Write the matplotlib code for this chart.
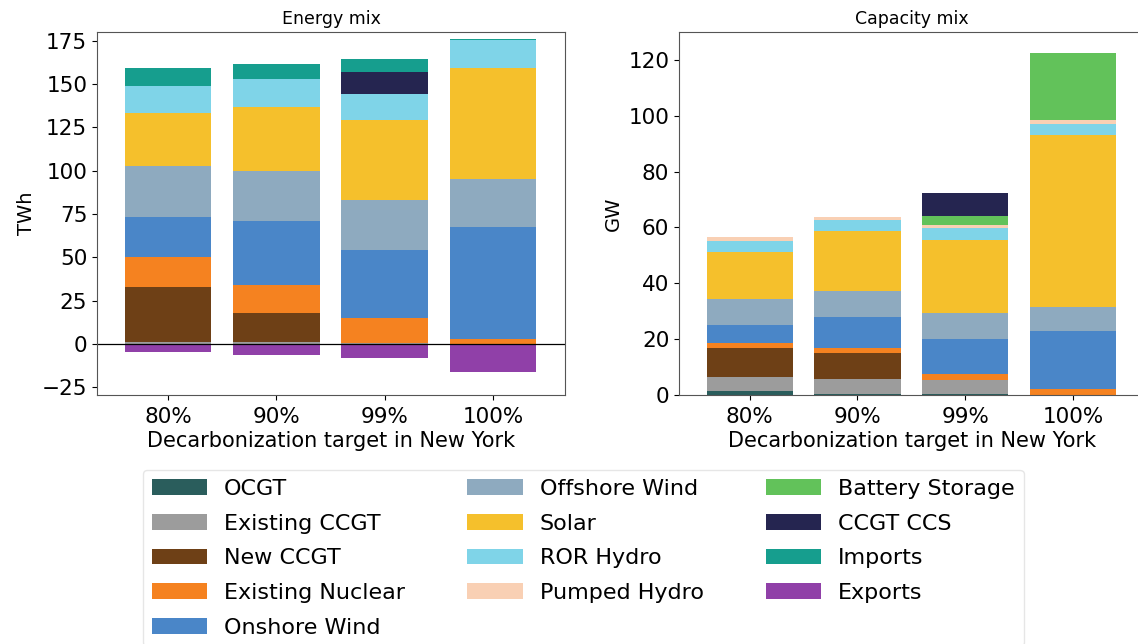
import matplotlib
matplotlib.use("Agg")
import matplotlib.pyplot as plt
from matplotlib.patches import Patch
import numpy as np

scenarios = ["80%", "90%", "99%", "100%"]
technologies = ["OCGT", "Existing CCGT", "New CCGT", "Existing Nuclear", "Onshore Wind",
                "Offshore Wind", "Solar", "ROR Hydro", "Pumped Hydro", "Battery Storage",
                "CCGT CCS", "Imports", "Exports"]
colors = ["#2a5d5c", "#9c9c9c", "#6e4016", "#f58220", "#4a86c8",
          "#8eaabf", "#f5c02c", "#7fd4e8", "#f9d0b4", "#62c25a",
          "#252550", "#169e8e", "#9040a8"]

# Energy mix (TWh), per technology, per scenario
energy_ocgt = [0.0, 0.0, 0.0, 0.0]
energy_existing_ccgt = [1.0, 1.0, 0.4, 0.0]
energy_new_ccgt = [32.0, 17.1, 0.0, 0.0]
energy_nuclear = [17.0, 16.0, 14.5, 2.7]
energy_onshore = [23.5, 36.6, 39.4, 64.8]
energy_offshore = [29.0, 28.9, 28.9, 27.7]
energy_solar = [30.8, 37.2, 45.9, 64.2]
energy_ror = [15.8, 15.8, 15.4, 15.9]
energy_pumped = [0.0, 0.0, 0.0, 0.0]
energy_battery = [0.0, 0.0, 0.0, 0.0]
energy_ccs = [0.0, 0.0, 12.5, 0.0]
energy_imports = [10.3, 9.2, 7.7, 0.8]
energy_exports = [-4.5, -6.4, -8.3, -16.0]

# Capacity mix (GW)
cap_ocgt = [1.5, 0.5, 0.5, 0.0]
cap_existing_ccgt = [4.8, 5.2, 5.0, 0.0]
cap_new_ccgt = [10.7, 9.3, 0.0, 0.0]
cap_nuclear = [1.8, 2.0, 2.0, 2.0]
cap_onshore = [6.1, 10.9, 12.7, 20.9]
cap_offshore = [9.5, 9.3, 9.0, 8.7]
cap_solar = [16.7, 21.7, 26.4, 61.4]
cap_ror = [3.9, 3.8, 4.2, 3.9]
cap_pumped = [1.5, 1.2, 1.1, 1.5]
cap_battery = [0.0, 0.0, 3.2, 24.1]
cap_ccs = [0.0, 0.0, 8.1, 0.0]

energy_stack = [energy_ocgt, energy_existing_ccgt, energy_new_ccgt, energy_nuclear,
                energy_onshore, energy_offshore, energy_solar, energy_ror, energy_pumped,
                energy_battery, energy_ccs, energy_imports]
cap_stack = [cap_ocgt, cap_existing_ccgt, cap_new_ccgt, cap_nuclear, cap_onshore,
             cap_offshore, cap_solar, cap_ror, cap_pumped, cap_battery, cap_ccs]

plt.rcParams['font.family'] = ['DejaVu Sans']

fig = plt.figure(figsize=(11.38, 6.44), dpi=100)
ax1 = fig.add_axes([97/1138, 1-395/644, 468/1138, 363/644])
ax2 = fig.add_axes([679/1138, 1-395/644, 466/1138, 363/644])

x = np.arange(len(scenarios))
width = 0.8

def stack(ax, series):
    bottom = np.zeros(len(scenarios))
    for vals, c in zip(series, colors):
        v = np.array(vals, dtype=float)
        ax.bar(x, v, width, bottom=bottom, color=c, linewidth=0)
        bottom += v

stack(ax1, energy_stack)
ax1.bar(x, energy_exports, width, color=colors[-1], linewidth=0)
ax1.axhline(0, color="black", linewidth=0.9)
stack(ax2, cap_stack)

for ax, title, ylabel in [(ax1, "Energy mix", "TWh"), (ax2, "Capacity mix", "GW")]:
    ax.set_xticks(x)
    ax.set_xticklabels(scenarios)
    ax.set_xlim(-0.655, 3.666)
    ax.set_title(title, fontsize=12.5, pad=6)
    ax.set_ylabel(ylabel, fontsize=14)
    ax.set_xlabel("Decarbonization target in New York", fontsize=15, labelpad=3)
    ax.tick_params(axis="both", labelsize=15.5)
    ax.tick_params(axis="x", pad=5)
    for s in ax.spines.values():
        s.set_color("#555555")

ax1.set_ylim(-29.5, 180)
ax1.set_yticks([-25, 0, 25, 50, 75, 100, 125, 150, 175])
ax2.set_ylim(0, 130)
ax2.set_yticks([0, 20, 40, 60, 80, 100, 120])

handles = [Patch(facecolor=c, edgecolor="none") for c in colors]
fig.legend(handles, technologies, loc="upper left", bbox_to_anchor=(143/1138, 1-470/644),
           ncol=3, fontsize=16, handlelength=2.5, handletextpad=0.75, columnspacing=2.8,
           labelspacing=0.66, borderaxespad=0, borderpad=0.4, frameon=True,
           edgecolor="#e0e0e0")

fig.savefig("out.png", dpi=100)
